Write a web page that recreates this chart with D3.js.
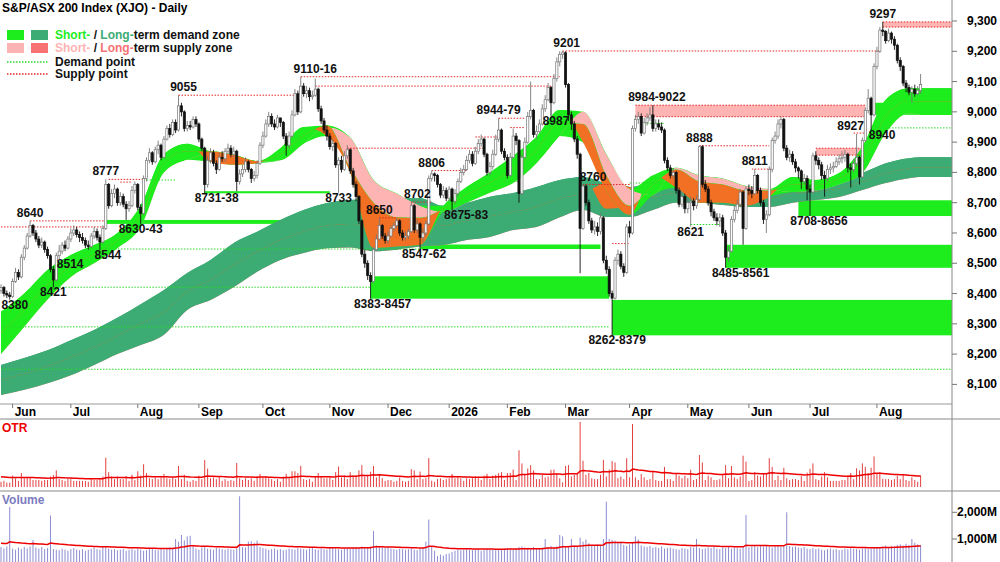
<!DOCTYPE html>
<html>
<head>
<meta charset="utf-8">
<script src="https://cdn.jsdelivr.net/npm/d3@7"></script>
<style>
body { margin: 0; background: #fff; }
svg { display: block; font-family: "Liberation Sans Narrow", "Arial Narrow", "Liberation Sans", Arial, sans-serif; }
</style>
</head>
<body>
<svg id="chart" width="1000" height="562"></svg>
<script>
// S&P/ASX 200 daily candles
const startDate = "2025-05-27";
const holidays = ["2025-06-09", "2025-12-25", "2025-12-26", "2026-01-01", "2026-01-26", "2026-04-03", "2026-04-06", "2026-06-08"];
const firstOpen = 8410;
const closes = [
  8420,8400,8395,8390,8440,8470,8455,8520,8550,8590, 8625,8600,8580,8560,8570,8545,8525,8480,8445,8525,
  8540,8560,8550,8580,8600,8610,8595,8585,8575,8560, 8555,8590,8605,8585,8570,8615,8760,8690,8730,8745,
  8700,8720,8695,8680,8690,8740,8760,8685,8665,8780, 8840,8865,8835,8875,8890,8850,8910,8945,8925,8965,
  8940,9020,9000,8945,8955,8950,8975,8960,8910,8880, 8760,8840,8865,8830,8810,8850,8845,8870,8880,8860,
  8870,8770,8795,8810,8835,8810,8780,8790,8830,8890, 8920,8960,8985,8960,8950,8980,8965,8920,8890,
  8920,8990,9060,9000,9085,9060,9070,9050,9055,9075, 9010,8970,8940,8920,8885,8895,8825,8840,8810,8855,
  8875,8805,8760,8720,8640,8530,8500,8460,8440,8545, 8580,8625,8590,8575,8590,8615,8625,8640,8600,8585,
  8590,8605,8690,8610,8630,8585,8600,8630,8780,8795, 8790,8760,8725,8740,8715,8745,8705,8730,8770,8800,
  8810,8840,8860,8830,8870,8895,8910,8860,8800,8820, 8860,8910,8940,8870,8850,8790,8850,8920,8905,8730,
  8850,8900,8985,9005,8925,8935,8960,9010,9040,
  9080,9030,9110,9165,9190,9195,9090,8990,8960,8910, 8860,8615,8755,8700,8640,8610,8620,8605,8650,8510,
  8480,8400,8385,8510,8530,8490,8470,8620,8600,8945, 8975,8985,8930,8965,8980,8990,8945,8960,8950,8940,
  8840,8815,8790,8800,8740,8695,8720,8680,8700,8705, 8690,8710,8885,8760,8745,8700,8670,8650,8640,8650,
  8600,8520,8540,8645,8675,8695,8735,8615,8745,8740, 8730,8790,8740,8700,8645,8660,8810,8905,8920,8960,
  8975,8880,8850,8860,8835,8815,8805,8770,8780,
  8745,8735,8855,8840,8825,8790,8780,8810,8815,8820, 8835,8845,8850,8860,8815,8810,8830,8850,8785,8905,
  9005,9045,8990,9150,9200,9270,9265,9235,9260,9240, 9220,9170,9150,9095,9080,9065,9075,9060,9070,9090
];
const highs = [
  8430,8425,8410,8405,8450,8485,8480,8530,8560,8600, 8640,8630,8610,8590,8585,8575,8555,8530,8490,8535,
  8560,8570,8575,8590,8615,8625,8620,8605,8600,8585, 8575,8600,8620,8615,8595,8625,8777,8765,8745,8760,
  8750,8735,8730,8705,8705,8755,8770,8765,8695,8790, 8850,8880,8870,8885,8905,8895,8920,8955,8960,8975,
  8975,9055,9030,9005,8970,8970,8985,8985,8965,8915, 8885,8855,8880,8875,8840,8865,8870,8880,8895,8890,
  8885,8875,8810,8825,8850,8840,8815,8805,8840,8900, 8935,8975,9000,8995,8975,8990,8980,8970,8930,
  8935,9005,9075,9070,9116,9095,9085,9080,9070,9110, 9080,9020,8980,8955,8930,8910,8900,8850,8855,8870,
  8890,8880,8815,8770,8725,8645,8545,8510,8470,8555, 8595,8650,8630,8600,8605,8625,8635,8650,8645,8610,
  8605,8615,8702,8695,8645,8635,8615,8640,8790,8806, 8800,8795,8765,8755,8750,8755,8750,8745,8780,8815,
  8825,8855,8875,8870,8885,8910,8925,8915,8865,8835, 8875,8925,8979,8945,8880,8860,8865,8945,8930,8910,
  8860,8915,9000,9100,9010,8955,8975,9025,9055,
  9095,9085,9125,9180,9200,9201,9200,9095,9000,8970, 8920,8865,8760,8760,8710,8650,8640,8635,8665,8655,
  8525,8490,8410,8520,8545,8540,8500,8630,8640,8955, 8990,9000,8995,8980,8995,9015,9022,8975,8975,8965,
  8945,8850,8825,8815,8805,8750,8735,8730,8715,8720, 8715,8725,8888,8890,8775,8755,8710,8680,8665,8665,
  8660,8610,8555,8655,8690,8710,8745,8740,8755,8760, 8755,8811,8795,8750,8710,8675,8820,8915,8935,8975,
  8985,8980,8890,8875,8870,8845,8820,8810,8795,
  8790,8760,8865,8870,8850,8835,8805,8825,8830,8835, 8850,8860,8870,8875,8865,8830,8845,8927,8855,8915,
  9015,9075,9050,9160,9215,9280,9297,9270,9275,9265, 9250,9225,9180,9155,9105,9090,9085,9090,9085,9125
];
const lows = [
  8400,8390,8385,8380,8385,8435,8445,8450,8510,8545, 8585,8590,8570,8550,8550,8535,8515,8470,8421,8440,
  8514,8530,8540,8545,8570,8590,8585,8570,8565,8550, 8545,8550,8580,8575,8544,8565,8610,8680,8685,8715,
  8690,8690,8685,8643,8670,8685,8730,8675,8630,8660, 8770,8830,8825,8830,8860,8840,8845,8905,8915,8920,
  8930,8935,8985,8935,8935,8940,8945,8950,8900,8870, 8731,8750,8830,8820,8795,8805,8835,8835,8860,8850,
  8850,8738,8760,8785,8800,8800,8765,8770,8780,8825, 8880,8915,8950,8950,8940,8945,8950,8910,8855,
  8880,8915,8985,8990,8995,9050,9045,9035,9040,9050, 9000,8960,8930,8905,8875,8870,8815,8733,8800,8805,
  8845,8795,8750,8705,8630,8520,8485,8445,8383,8435, 8540,8575,8580,8565,8565,8585,8605,8615,8590,8575,
  8575,8580,8600,8600,8600,8547,8570,8590,8625,8770, 8770,8750,8715,8715,8705,8705,8675,8695,8720,8765,
  8790,8805,8830,8820,8825,8860,8885,8850,8790,8790, 8810,8855,8900,8860,8840,8780,8785,8845,8890,8700,
  8725,8845,8895,8975,8915,8910,8930,8955,9000,
  9035,8987,9025,9100,9150,9175,9080,8970,8940,8900, 8845,8467,8610,8690,8630,8600,8595,8590,8595,8500,
  8465,8390,8262,8380,8495,8480,8455,8465,8585,8595, 8935,8960,8920,8925,8955,8970,8935,8935,8940,8930,
  8830,8805,8780,8780,8730,8685,8685,8665,8665,8621, 8675,8680,8705,8750,8735,8690,8655,8640,8625,8620,
  8590,8485,8505,8535,8635,8665,8685,8561,8610,8725, 8715,8725,8730,8690,8630,8600,8655,8800,8895,8910,
  8945,8870,8840,8835,8825,8800,8780,8745,8760,
  8708,8656,8730,8825,8810,8775,8720,8770,8795,8800, 8815,8825,8830,8835,8800,8750,8800,8820,8760,8780,
  8900,8995,8940,8985,9140,9195,9250,9225,9230,9225, 9205,9160,9135,9085,9065,9055,9030,9050,9055,9060
];
// daily volume, millions
const volumes = [
  700,650,720,2200,640,600,680,620,700,650, 720,960,680,640,700,620,660,1880,620,600,
  580,640,600,560,620,660,600,580,620,560, 600,640,680,620,600,720,700,640,600,620,
  580,600,640,560,600,620,580,640,600,560, 580,620,640,600,580,620,600,640,680,660,
  1000,900,1150,950,1100,1120,720,640,600,680, 720,640,620,600,660,640,620,600,640,620,
  600,640,2600,700,680,900,920,860,940,700, 660,640,600,620,640,600,620,580,600,640,
  620,600,660,640,620,600,640,660,620,600, 640,620,600,680,660,640,620,600,640,660,
  640,700,680,660,720,680,700,720,1300,760, 700,680,660,700,640,620,600,640,620,600,
  620,640,600,580,640,660,900,1730,700,560, 360,420,380,440,460,520,560,600,580,600,
  620,600,580,600,620,560,600,640,620,600, 580,620,600,640,660,620,600,640,700,720,
  680,660,640,700,620,640,680,1000,700,740, 680,720,1150,1100,700,740,1000,760,720,1050,
  900,980,840,760,740,800,760,1000,2400,1000, 960,940,880,900,780,740,800,860,1100,980,
  760,720,700,740,680,700,660,720,640,660, 680,640,620,600,660,640,620,700,680,1000,
  660,620,640,680,660,700,640,620,680,660, 700,640,680,660,640,700,1900,680,720,740,
  700,740,720,760,700,680,720,740,700,760, 2000,740,700,720,680,660,700,640,620,660,
  620,640,600,580,620,640,600,620,580,600, 640,620,660,640,620,600,640,680,620,640,
  660,700,680,720,760,700,740,720,780,800, 760,820,780,1000,860,800,780
];

// demand / supply ribbons, sampled every 8 sessions
const bandIdx = [0,8,16,24,32,40,48,56,64,72,80,88,96,104,112,120,128,136,144,152,160,168,176,184,192,200,208,216,224,232,240,248,256,264,272,280,288,296,304,312,316];
const shortFast = [8340,8400,8478,8527,8560,8600,8690,8860,8895,8835,8825,8830,8880,8950,8920,8800,8550,8555,8560,8690,8752,8800,8855,8917,9006,8900,8740,8660,8790,8750,8700,8700,8690,8720,8785,8775,8798,8885,9040,9078,9078];
const shortMid  = [8270,8345,8430,8490,8530,8575,8655,8830,8870,8870,8858,8838,8860,8922,8955,8815,8700,8652,8650,8680,8726,8766,8810,8873,8963,8960,8790,8690,8758,8810,8770,8760,8740,8740,8760,8758,8780,8840,8985,9036,9034];
const shortSlow = [8200,8290,8380,8455,8500,8550,8620,8800,8842,8860,8850,8835,8840,8895,8950,8915,8775,8730,8690,8670,8700,8733,8765,8830,8920,9000,8860,8745,8725,8815,8790,8780,8755,8745,8735,8740,8760,8798,8930,8995,8990];
const longFast  = [8164,8187,8213,8246,8280,8320,8365,8412,8468,8511,8567,8604,8643,8676,8699,8709,8712,8715,8715,8690,8700,8720,8732,8752,8775,8785,8680,8690,8765,8765,8765,8752,8742,8742,8765,8765,8775,8798,8830,8847,8850];
const longMid   = [8115,8135,8160,8190,8222,8260,8300,8338,8407,8445,8495,8538,8577,8605,8625,8630,8628,8630,8635,8625,8640,8655,8670,8686,8714,8730,8765,8752,8720,8732,8732,8722,8714,8714,8732,8737,8747,8770,8797,8814,8817];
const longSlow  = [8065,8082,8104,8130,8164,8200,8230,8264,8346,8379,8422,8472,8511,8534,8550,8552,8540,8545,8555,8560,8577,8587,8610,8620,8652,8676,8653,8653,8676,8700,8700,8692,8686,8686,8700,8709,8719,8742,8765,8781,8785];

// zones: [low, high, start session, end session (null = right edge)]
const demandZones = [[8630,8643,36,123],[8731,8738,70,113],[8383,8457,127,209],[8547,8562,144,206],[8262,8379,210,null],[8485,8561,249,null],[8656,8708,274,null],[8990,9030,300,null]];
const supplyZones = [[8984,9022,218,297],[8857,8880,280,296],[9280,9297,303,null]];
// points: [price, start session, end session]
const supplyPoints = [[8620,0,36],[8640,10,36],[8777,37,49],[8768,41,45],[9055,61,101],[9116,103,192],[9085,108,190],[8880,119,166],[8806,148,160],[8702,141,148],[8650,130,136],[8917,163,171],[8979,171,180],[8948,175,180],[9201,193,302],[8760,200,216],[8565,210,216],[8888,240,264],[8811,258,265],[8930,293,297]];
const demandPoints = [[8547,34,144],[8421,18,127],[8290,0,209],[8150,0,null],[8775,49,60],[8865,59,63],[8770,173,178],[8962,221,228],[8765,216,228],[8628,237,247],[8947,300,null]];
// annotations: [text, session, price, side]
const labels = [
  ["8380",3,8380,"below"],["8421",18,8421,"below"],["8514",20,8514,"below"],["8544",34,8544,"below"],
  ["8640",10,8640,"above"],["8777",36,8777,"above"],["8630-43",48,8630,"below"],["9055",61,9055,"above"],
  ["8731-38",70,8731,"below"],["9110-16",108,9116,"above"],["8733",116,8733,"below"],["8650",130,8650,"above"],
  ["8702",141,8702,"above"],["8806",148,8806,"above"],["8383-8457",127,8383,"below"],["8547-62",144,8547,"below"],
  ["8675-83",155,8675,"below"],["8944-79",171,8979,"above"],["9201",193,9201,"above"],["8987",189,8987,"below"],
  ["8760",200,8760,"above"],["8262-8379",210,8262,"below"],["8984-9022",224,9022,"above"],["8888",240,8888,"above"],
  ["8621",237,8621,"below"],["8811",259,8811,"above"],["8485-8561",249,8485,"below"],["8708-8656",278,8656,"below"],
  ["8927",294,8927,"above"],["8940",299,8940,"below"],["9297",303,9297,"above"]
];
const nudge = {"8380":5,"8514":11,"8544":8,"9055":5,"8731-38":12,"8702":6,"8383-8457":12,"8547-62":4,"8675-83":14,"9201":4,"8987":5,"8760":10,"8262-8379":5,"8984-9022":4,"8485-8561":15,"8708-8656":9,"8927":-6,"8940":11};
const priceTicks = [8100,8200,8300,8400,8500,8600,8700,8800,8900,9000,9100,9200,9300];
const volTicks = [1000,2000];

const GREEN = "#1ded1d", DKGREEN = "#3cab74", ORANGE = "#f27024", PINK = "#ffb4b4", SALMON = "#f77272", RED = "#e32626";

const svg = d3.select("#chart");
const defs = svg.append("defs");
const N = closes.length;
const xR = 952, mainB = 404;
const x = d3.scaleLinear().domain([0, N - 1]).range([1, 920.6]);
const y = d3.scaleLinear().domain([8100, 9300]).range([384.4, 21]);
const xe = i => i == null ? xR : x(i);
const opens = closes.map((c, i) => i ? closes[i - 1] : firstOpen);

defs.append("clipPath").attr("id", "mainClip").append("rect").attr("width", xR).attr("height", mainB);
const main = svg.append("g").attr("clip-path", "url(#mainClip)");

// zones under the ribbons
main.selectAll(".dz").data(demandZones).join("rect")
  .attr("x", d => x(d[2])).attr("width", d => xe(d[3]) - x(d[2]))
  .attr("y", d => y(d[1])).attr("height", d => Math.max(2, y(d[0]) - y(d[1])))
  .attr("fill", GREEN);
main.selectAll(".sz").data(supplyZones).join("rect")
  .attr("x", d => x(d[2])).attr("width", d => xe(d[3]) - x(d[2]))
  .attr("y", d => y(d[1])).attr("height", d => y(d[0]) - y(d[1]))
  .attr("fill", PINK);

// ribbons: colour flips where the faster line drops under the slower one
const areaGen = d3.area().x(d => d[0]).y1(d => d[1]).y0(d => d[2]).curve(d3.curveMonotoneX);
function knots(a, b) {
  const pts = bandIdx.map((k, j) => [x(k), y(a[j]), y(b[j])]);
  const last = pts[pts.length - 1];
  pts.push([xR + 3, last[1], last[2]]);
  return pts;
}
let clipN = 0;
function ribbon(a, b, upCol, downCol) {
  const pts = knots(a, b);
  const idUp = "rc" + clipN++, idDn = "rc" + clipN++;
  defs.append("clipPath").attr("id", idUp).append("path").attr("d", areaGen(pts.map(p => [p[0], -20, p[2]])));
  defs.append("clipPath").attr("id", idDn).append("path").attr("d", areaGen(pts.map(p => [p[0], 600, p[2]])));
  main.append("path").attr("d", areaGen(pts)).attr("fill", upCol).attr("clip-path", `url(#${idUp})`);
  main.append("path").attr("d", areaGen(pts)).attr("fill", downCol).attr("clip-path", `url(#${idDn})`);
}
// solid envelope underneath so the inner seams do not show
function envelope(a, b, c, col) {
  const hi = a.map((v, j) => Math.max(v, b[j], c[j]));
  const lo = a.map((v, j) => Math.min(v, b[j], c[j]));
  main.append("path").attr("d", areaGen(knots(hi, lo))).attr("fill", col);
}
envelope(longFast, longMid, longSlow, DKGREEN);
ribbon(longMid, longSlow, DKGREEN, SALMON);
ribbon(longFast, longMid, DKGREEN, ORANGE);
envelope(shortFast, shortMid, shortSlow, GREEN);
ribbon(shortMid, shortSlow, GREEN, PINK);
ribbon(shortFast, shortMid, GREEN, ORANGE);

// dotted supply / demand points
function dotted(data, col) {
  main.append("g").selectAll("line").data(data).join("line")
    .attr("x1", d => x(d[1])).attr("x2", d => xe(d[2]))
    .attr("y1", d => y(d[0])).attr("y2", d => y(d[0]))
    .attr("stroke", col).attr("stroke-width", 1).attr("stroke-dasharray", "1.5,1.5");
}
dotted(supplyPoints, RED);
dotted(supplyZones.flatMap(z => [[z[0], z[2], z[3]], [z[1], z[2], z[3]]]), RED);
dotted(demandPoints, "#2bd82b");

// candles
const cg = main.append("g");
closes.forEach((c, i) => {
  const o = opens[i], up = c >= o;
  const hi = Math.max(highs[i], o, c), lo = Math.min(lows[i], o, c);
  const col = up ? "#777" : "#111";
  cg.append("line").attr("x1", x(i)).attr("x2", x(i)).attr("y1", y(hi)).attr("y2", y(lo))
    .attr("stroke", col).attr("stroke-width", 0.9);
  cg.append("rect").attr("x", x(i) - 1.1).attr("width", 2.2)
    .attr("y", y(Math.max(o, c))).attr("height", Math.max(0.8, Math.abs(y(o) - y(c))))
    .attr("fill", up ? "#fff" : "#111").attr("stroke", col).attr("stroke-width", 0.7);
});

// price labels
main.append("g").selectAll("text").data(labels).join("text")
  .attr("x", d => x(d[1]) + (nudge[d[0]] || 0))
  .attr("y", d => d[3] === "above" ? y(d[2]) - 4 : y(d[2]) + 9)
  .attr("text-anchor", "middle").attr("font-weight", "bold").attr("font-size", 12)
  .attr("fill", "#111").text(d => d[0]);

// frame
svg.append("line").attr("x1", 0).attr("x2", xR).attr("y1", mainB).attr("y2", mainB).attr("stroke", "#999");
svg.append("line").attr("x1", 0).attr("x2", 1000).attr("y1", 419).attr("y2", 419).attr("stroke", "#888");
svg.append("line").attr("x1", 0).attr("x2", 1000).attr("y1", 491).attr("y2", 491).attr("stroke", "#888");
svg.append("line").attr("x1", xR).attr("x2", xR).attr("y1", 0).attr("y2", 562).attr("stroke", "#888");

// right price axis
const ax = svg.append("g");
priceTicks.forEach(v => {
  ax.append("line").attr("x1", xR).attr("x2", xR + 5).attr("y1", y(v)).attr("y2", y(v)).attr("stroke", "#777");
  ax.append("text").attr("x", 997).attr("y", y(v) + 4).attr("text-anchor", "end")
    .attr("font-weight", "bold").attr("font-size", 12).text(d3.format(",")(v));
});

// month axis from trading days
const parse = d3.utcParse("%Y-%m-%d"), fmt = d3.utcFormat("%Y-%m-%d");
const hol = new Set(holidays);
const days = d3.utcDay.range(parse(startDate), d3.utcDay.offset(parse(startDate), 500))
  .filter(d => d.getUTCDay() % 6 !== 0 && !hol.has(fmt(d))).slice(0, N);
days.forEach((d, i) => {
  if (i === 0 || d.getUTCMonth() === days[i - 1].getUTCMonth()) return;
  ax.append("line").attr("x1", x(i)).attr("x2", x(i)).attr("y1", mainB).attr("y2", mainB + 4).attr("stroke", "#777");
  ax.append("text").attr("x", x(i) + 2).attr("y", 416).attr("font-weight", "bold").attr("font-size", 12)
    .text(d.getUTCMonth() === 0 ? d3.utcFormat("%Y")(d) : d3.utcFormat("%b")(d));
});

function ema(vals, n, seed) {
  const k = 2 / (n + 1);
  let e = seed;
  return vals.map(v => (e = e + k * (v - e)));
}

// OTR panel (daily range)
const ranges = closes.map((c, i) => Math.max(highs[i], c, opens[i]) - Math.min(lows[i], c, opens[i]));
const yO = d3.scaleLinear().domain([0, 400]).range([487, 417]);
svg.append("g").selectAll("line").data(ranges).join("line")
  .attr("x1", (d, i) => x(i)).attr("x2", (d, i) => x(i)).attr("y1", 487).attr("y2", d => Math.max(422, yO(d)))
  .attr("stroke", "#e34040").attr("stroke-width", 1);
svg.append("path").datum(ema(ranges, 40, 60))
  .attr("d", d3.line().x((d, i) => x(i)).y(d => yO(d)))
  .attr("fill", "none").attr("stroke", "#e00").attr("stroke-width", 1.5);
svg.append("text").attr("x", 2).attr("y", 432).attr("fill", "#e00").attr("font-weight", "bold").attr("font-size", 12).text("OTR");

// volume panel
const yV = d3.scaleLinear().domain([0, 1000]).range([565.7, 539]);
svg.append("g").selectAll("line").data(volumes).join("line")
  .attr("x1", (d, i) => x(i)).attr("x2", (d, i) => x(i)).attr("y1", 562).attr("y2", d => yV(d))
  .attr("stroke", "#8c8cd2").attr("stroke-width", 1);
svg.append("path").datum(ema(volumes, 40, 850))
  .attr("d", d3.line().x((d, i) => x(i)).y(d => yV(d)))
  .attr("fill", "none").attr("stroke", "#e00").attr("stroke-width", 1.5);
svg.append("text").attr("x", 2).attr("y", 504).attr("fill", "#7b7bc0").attr("font-weight", "bold").attr("font-size", 12).text("Volume");
volTicks.forEach(v => {
  svg.append("line").attr("x1", xR).attr("x2", xR + 5).attr("y1", yV(v)).attr("y2", yV(v)).attr("stroke", "#777");
  svg.append("text").attr("x", 997).attr("y", yV(v) + 4).attr("text-anchor", "end")
    .attr("font-weight", "bold").attr("font-size", 12).text(d3.format(",")(v) + "M");
});

// title + legend
svg.append("text").attr("x", 2).attr("y", 12).attr("font-weight", "bold").attr("font-size", 12).text("S&P/ASX 200 Index (XJO) - Daily");
const lg = svg.append("g").attr("font-weight", "bold").attr("font-size", 12);
lg.append("rect").attr("x", 7).attr("y", 30).attr("width", 17).attr("height", 10).attr("fill", GREEN);
lg.append("rect").attr("x", 31).attr("y", 30).attr("width", 17).attr("height", 10).attr("fill", DKGREEN);
lg.append("rect").attr("x", 7).attr("y", 43).attr("width", 17).attr("height", 10).attr("fill", PINK);
lg.append("rect").attr("x", 31).attr("y", 43).attr("width", 17).attr("height", 10).attr("fill", SALMON);
function legendLine(yy, parts) {
  const t = lg.append("text").attr("x", 55).attr("y", yy);
  parts.forEach(p => t.append("tspan").attr("fill", p[1]).text(p[0]));
}
legendLine(39, [["Short-", GREEN], [" / ", "#111"], ["Long-", DKGREEN], ["term demand zone", "#111"]]);
legendLine(52, [["Short-", PINK], [" / ", "#111"], ["Long-", SALMON], ["term supply zone", "#111"]]);
lg.append("line").attr("x1", 7).attr("x2", 48).attr("y1", 62).attr("y2", 62).attr("stroke", "#2bd82b").attr("stroke-width", 1.5).attr("stroke-dasharray", "1.5,1.5");
lg.append("line").attr("x1", 7).attr("x2", 48).attr("y1", 74).attr("y2", 74).attr("stroke", RED).attr("stroke-width", 1.5).attr("stroke-dasharray", "1.5,1.5");
legendLine(66, [["Demand point", "#111"]]);
legendLine(78, [["Supply point", "#111"]]);
</script>
</body>
</html>
